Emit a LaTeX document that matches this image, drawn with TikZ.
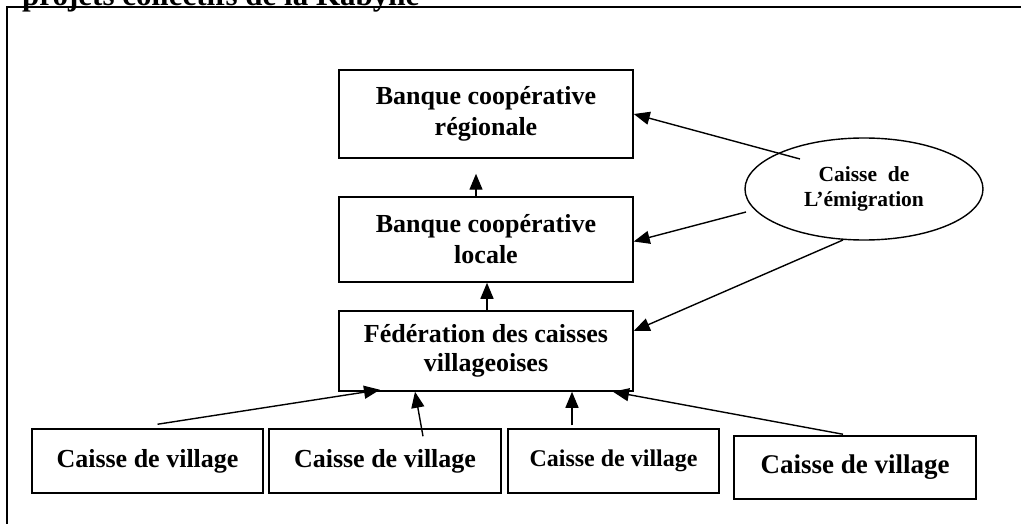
\documentclass[tikz,border=0pt]{standalone}
\usepackage{fontspec}
\setmainfont{Liberation Serif}
\usetikzlibrary{arrows.meta, shapes.geometric}

\tikzset{
  boite/.style={draw, line width=1.5pt, align=center, inner sep=0pt,
    font=\bfseries\fontsize{26}{31}\selectfont},
  caisse/.style={boite, minimum height=64pt},
  fleche/.style={line width=1.4pt, -{Triangle[length=16pt,width=13pt]}}
}

\begin{document}
\begin{tikzpicture}[x=1pt, y=-1pt]
            \path[use as bounding box, clip] (0,0) rectangle (1021,524);
            \node[anchor=base west, inner sep=0pt, font=\bfseries\fontsize{31}{36}\selectfont] (titre) at (22,5.5) {projets collectifs de la Kabylie};
            \draw[line width=2.2pt] (7,540) -- (7,7) -- (1030,7);
            \node[boite, minimum width=294pt, minimum height=88pt] (reg) at (486,114) {Banque coopérative\\régionale};
            \node[boite, minimum width=294pt, minimum height=85pt] (loc) at (486,239.5) {Banque coopérative\\locale};
            \node[boite, minimum width=294pt, minimum height=80pt, font=\bfseries\fontsize{26}{29}\selectfont] (fed) at (486,351) {Fédération des caisses\\villageoises};
            \node[draw, ellipse, line width=1.4pt, inner sep=0pt, minimum width=238pt, minimum height=102pt, align=center, font=\bfseries\fontsize{21.5}{25}\selectfont] (emig) at (864,189) {Caisse\ \ de\\L’émigration};
            \node[caisse, minimum width=231pt] (v1) at (147.5,461) {Caisse de village};
            \node[caisse, minimum width=232pt] (v2) at (385,461) {Caisse de village};
            \node[caisse, minimum width=211pt, font=\bfseries\fontsize{24}{29}\selectfont] (v3) at (613.5,461) {Caisse de village};
            \node[caisse, minimum width=242pt, minimum height=63pt, font=\bfseries\fontsize{27}{31}\selectfont] (v4) at (855,467.5) {Caisse de village};
            \draw[fleche] ([xshift=-10pt]loc.north) -- ([xshift=-10pt,yshift=-15pt]reg.south);
            \draw[fleche] ([xshift=1pt]fed.north) -- ([xshift=1pt]loc.south);
            \draw[fleche] ([xshift=-64pt,yshift=30pt]emig.center) -- (reg.east);
            \draw[fleche] ([xshift=-118pt,yshift=-23pt]emig.center) -- ([yshift=-2pt]loc.east);
            \draw[fleche] ([xshift=-21pt,yshift=-51pt]emig.center) -- ([yshift=20pt]fed.east);
            \draw[fleche] ([xshift=10pt,yshift=4pt]v1.north) -- ([xshift=-106pt,yshift=2pt]fed.south);
            \draw[fleche] ([xshift=38pt,yshift=-8pt]v2.north) -- ([xshift=-71pt]fed.south);
            \draw[fleche] ([xshift=-41.5pt,yshift=3pt]v3.north) -- ([xshift=86pt]fed.south);
            \draw[fleche] ([xshift=-12pt,yshift=1pt]v4.north) -- ([xshift=127pt]fed.south);
        \end{tikzpicture}
\end{document}
